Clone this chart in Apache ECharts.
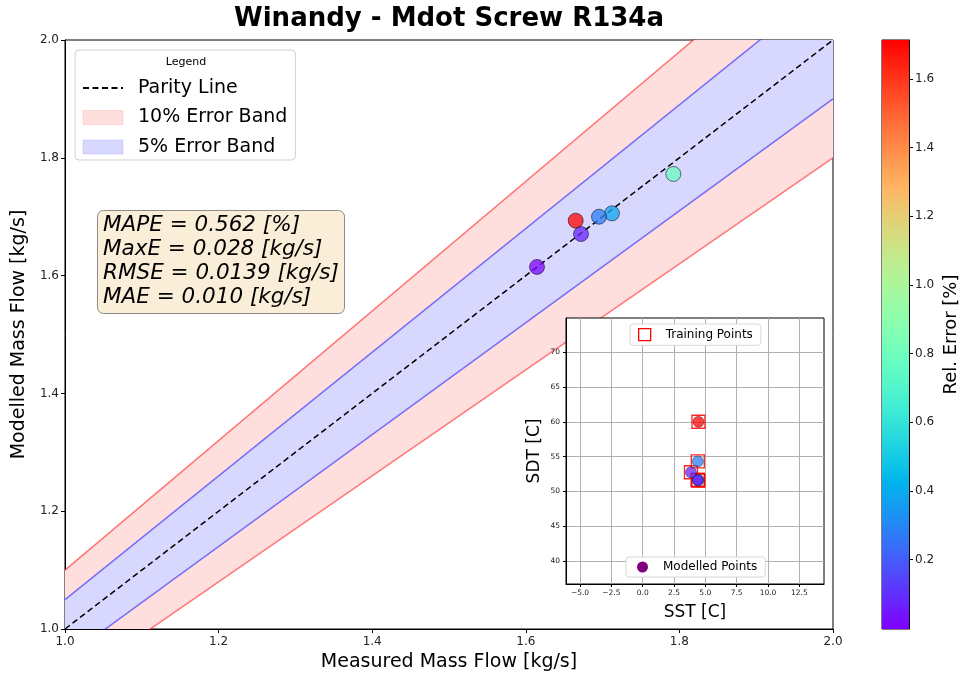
<!DOCTYPE html>
<html>
<head>
<meta charset="utf-8">
<script src="https://cdn.jsdelivr.net/npm/echarts@6/dist/echarts.min.js"></script>
<style>
  html, body { margin: 0; padding: 0; background: #fff; }
  #chart { width: 961px; height: 678px; }
</style>
</head>
<body>
<div id="chart"></div>
<script>
// Measured vs. modelled mass flow for each test point [kg/s]
const measured = [1.7921, 1.7122, 1.6650, 1.6953, 1.6719, 1.6146];
const modelled = [1.7725, 1.7057, 1.6933, 1.7000, 1.6706, 1.6147];
// Relative error of each point [%] (colour scale)
const relErr = [0.78, 0.38, 1.70, 0.28, 0.08, 0.01];
// Operating conditions of the same points (suction / discharge saturation temp.)
const sst = [4.45, 4.40, 4.45, 4.40, 3.85, 4.40];
const sdt = [51.55, 51.7, 60.0, 54.3, 52.75, 51.6];

// Axis ticks
const flowTicks = [1.0, 1.2, 1.4, 1.6, 1.8, 2.0];
const sstTicks = [-5, -2.5, 0, 2.5, 5, 7.5, 10, 12.5];
const sdtTicks = [40, 45, 50, 55, 60, 65, 70];
const errTicks = [0.2, 0.4, 0.6, 0.8, 1.0, 1.2, 1.4, 1.6];
const errRange = [-0.002, 1.713];

// Error bands around the parity line
const bandX = [1.0, 2.0];
const band10 = [0.9, 1.1];
const band5 = [0.95, 1.05];

const statsLines = [
  'MAPE = 0.562 [%]',
  'MaxE = 0.028 [kg/s]',
  'RMSE = 0.0139 [kg/s]',
  'MAE = 0.010 [kg/s]'
];

const FONT = 'DejaVu Sans';

// matplotlib-like "rainbow" colormap
function rainbow(t) {
  const r = Math.min(1, Math.abs(2 * t - 0.5));
  const g = Math.max(0, Math.sin(Math.PI * t));
  const b = Math.max(0, Math.cos(Math.PI * t / 2));
  return 'rgb(' + Math.round(r * 255) + ',' + Math.round(g * 255) + ',' + Math.round(b * 255) + ')';
}
const N_STOPS = 40;
const cmap = [];
for (let i = 0; i <= N_STOPS; i++) cmap.push(rainbow(i / N_STOPS));

const chart = echarts.init(document.getElementById('chart'), null, { renderer: 'canvas' });

function bandPolygon(name, factors, fill) {
  return {
    type: 'custom', name: name, xAxisIndex: 0, yAxisIndex: 0, silent: true, z: 1,
    itemStyle: { color: fill },
    data: [[bandX[0], bandX[1]]],
    renderItem: function (params, api) {
      const cs = params.coordSys;
      const pts = [
        [bandX[0], bandX[0] * factors[0]], [bandX[1], bandX[1] * factors[0]],
        [bandX[1], bandX[1] * factors[1]], [bandX[0], bandX[0] * factors[1]]
      ].map(p => api.coord(p));
      return {
        type: 'group',
        clipPath: { type: 'rect', shape: { x: cs.x, y: cs.y, width: cs.width, height: cs.height } },
        children: [{ type: 'polygon', shape: { points: pts }, style: { fill: fill } }]
      };
    }
  };
}

function edgeLine(factor, color) {
  return {
    type: 'line', xAxisIndex: 0, yAxisIndex: 0, silent: true, z: 2,
    symbol: 'none', lineStyle: { color: color, width: 1.5 },
    data: bandX.map(x => [x, x * factor])
  };
}

const mainPoints = measured.map((m, i) => [m, modelled[i], relErr[i]]);
const insetPoints = sst.map((s, i) => [s, sdt[i], relErr[i]]);

const axisText = { color: '#222', fontFamily: FONT };

const option = {
  animation: false,
  backgroundColor: '#fff',
  textStyle: { fontFamily: FONT },
  title: [{
    text: statsLines.join('\n'),
    left: 97, top: 210,
    padding: [4, 6, 5, 6],
    backgroundColor: 'rgba(245,222,179,0.5)',
    borderColor: '#8a8a8a', borderWidth: 1, borderRadius: 6,
    textStyle: { fontFamily: FONT, fontStyle: 'italic', fontWeight: 'normal', fontSize: 21.5, lineHeight: 23.8, color: '#000' }
  }],
  graphic: [
    { type: 'text', x: 449, y: 19, style: { text: 'Winandy - Mdot Screw R134a', font: 'bold 26px "DejaVu Sans"', fill: '#000', textAlign: 'center', textVerticalAlign: 'middle' } },
    { type: 'text', x: 186, y: 62, z: 100, style: { text: 'Legend', font: '11px "DejaVu Sans"', fill: '#000', textAlign: 'center', textVerticalAlign: 'middle' } }
  ],
  legend: [{
    left: 75, top: 50, orient: 'vertical',
    padding: [28, 8, 3, 7],
    itemWidth: 40, itemHeight: 14, itemGap: 9.5,
    backgroundColor: 'rgba(255,255,255,0.85)', borderColor: '#d0d0d0', borderWidth: 1, borderRadius: 4,
    textStyle: { fontFamily: FONT, fontSize: 19, lineHeight: 20, color: '#000', padding: [0, 0, 0, 10] },
    selectedMode: false,
    data: [
      { name: 'Parity Line', itemStyle: { color: 'rgba(0,0,0,0)', borderWidth: 0, opacity: 0 } },
      { name: '10% Error Band', icon: 'rect', itemStyle: { color: '#ffdede', borderColor: 'rgba(255,150,150,0.3)', borderWidth: 1 } },
      { name: '5% Error Band', icon: 'rect', itemStyle: { color: '#d8d8ff', borderColor: 'rgba(150,150,255,0.3)', borderWidth: 1 } }
    ]
  }, {
    left: 630, top: 324, zlevel: 1,
    padding: [4, 8, 4, 8],
    itemWidth: 12, itemHeight: 12,
    backgroundColor: '#fff', borderColor: '#d8d8d8', borderWidth: 1, borderRadius: 3,
    textStyle: { fontFamily: FONT, fontSize: 12, color: '#000', padding: [0, 0, 0, 10] },
    selectedMode: false,
    data: [{ name: 'Training Points', icon: 'rect', itemStyle: { color: 'rgba(0,0,0,0)', borderColor: '#ff0000', borderWidth: 1.3, opacity: 1 } }]
  }, {
    left: 626, top: 557, zlevel: 1,
    padding: [4, 8, 4, 11],
    itemWidth: 11, itemHeight: 11,
    backgroundColor: '#fff', borderColor: '#d8d8d8', borderWidth: 1, borderRadius: 3,
    textStyle: { fontFamily: FONT, fontSize: 12, color: '#000', padding: [0, 0, 0, 10] },
    selectedMode: false,
    data: [{ name: 'Modelled Points', icon: 'circle', itemStyle: { color: '#800080', borderWidth: 0, opacity: 1 } }]
  }],
  visualMap: {
    type: 'continuous', show: false,
    min: 0, max: errRange[1], dimension: 2,
    seriesIndex: [5, 7],
    inRange: { color: cmap }
  },
  grid: [
    { left: 65, top: 40, width: 768, height: 589, show: true, borderColor: '#000', borderWidth: 1, backgroundColor: 'transparent' },
    { left: 566, top: 318, width: 258, height: 266, show: true, borderColor: '#000', borderWidth: 1, backgroundColor: '#fff', zlevel: 1 },
    { left: 882, top: 40, width: 29, height: 589, show: true, borderColor: '#000', borderWidth: 1, backgroundColor: 'transparent' }
  ],
  xAxis: [{
    gridIndex: 0, type: 'value', min: 1.0, max: 2.0, interval: 0.2,
    name: 'Measured Mass Flow [kg/s]', nameLocation: 'middle', nameGap: 24,
    nameTextStyle: { fontFamily: FONT, fontSize: 19, color: '#000' },
    axisLine: { show: true, onZero: false, lineStyle: { color: '#000', width: 1 } },
    axisTick: { show: true, length: 4, lineStyle: { color: '#000' } },
    axisLabel: Object.assign({ fontSize: 12, margin: 7, formatter: v => v.toFixed(1), customValues: flowTicks }, axisText),
    splitLine: { show: false }
  }, {
    gridIndex: 1, type: 'value', min: -6.12, max: 14.47, zlevel: 1,
    name: 'SST [C]', nameLocation: 'middle', nameGap: 20,
    nameTextStyle: { fontFamily: FONT, fontSize: 17, color: '#000' },
    axisLine: { show: true, onZero: false, lineStyle: { color: '#000', width: 1 } },
    axisTick: { show: true, length: 3, customValues: sstTicks, lineStyle: { color: '#000' } },
    axisLabel: Object.assign({ fontSize: 7.5, margin: 5, customValues: sstTicks, formatter: v => (v < 0 ? '\u2212' : '') + Math.abs(v).toFixed(1) }, axisText),
    splitLine: { show: true, lineStyle: { color: '#b0b0b0', width: 1 } }
  }, {
    gridIndex: 2, type: 'value', min: 0, max: 1, show: false
  }],
  yAxis: [{
    gridIndex: 0, type: 'value', min: 1.0, max: 2.0, interval: 0.2,
    name: 'Modelled Mass Flow [kg/s]', nameLocation: 'middle', nameGap: 35,
    nameTextStyle: { fontFamily: FONT, fontSize: 19, color: '#000' },
    axisLine: { show: true, onZero: false, lineStyle: { color: '#000', width: 1 } },
    axisTick: { show: true, length: 4, lineStyle: { color: '#000' } },
    axisLabel: Object.assign({ fontSize: 12, margin: 6, formatter: v => v.toFixed(1), customValues: flowTicks }, axisText),
    splitLine: { show: false }
  }, {
    gridIndex: 1, type: 'value', min: 36.7, max: 74.9, zlevel: 1,
    name: 'SDT [C]', nameLocation: 'middle', nameGap: 23,
    nameTextStyle: { fontFamily: FONT, fontSize: 17, color: '#000' },
    axisLine: { show: true, onZero: false, lineStyle: { color: '#000', width: 1 } },
    axisTick: { show: true, length: 3, customValues: sdtTicks, lineStyle: { color: '#000' } },
    axisLabel: Object.assign({ fontSize: 7.5, margin: 6, customValues: sdtTicks, formatter: v => String(v) }, axisText),
    splitLine: { show: true, lineStyle: { color: '#b0b0b0', width: 1 } }
  }, {
    gridIndex: 2, type: 'value', position: 'right', min: errRange[0], max: errRange[1],
    name: 'Rel. Error [%]', nameLocation: 'middle', nameRotate: 90, nameGap: 33,
    nameTextStyle: { fontFamily: FONT, fontSize: 18, color: '#000' },
    axisLine: { show: true, onZero: false, lineStyle: { color: '#000', width: 1 } },
    axisTick: { show: true, length: 4, customValues: errTicks, lineStyle: { color: '#000' } },
    axisLabel: Object.assign({ fontSize: 12, margin: 6, customValues: errTicks, formatter: v => v.toFixed(1) }, axisText),
    splitLine: { show: false }
  }],
  series: [
    // shaded bands
    bandPolygon('10% Error Band', band10, '#ffdede'),
    bandPolygon('5% Error Band', band5, '#d8d8ff'),
    // outer band edges
    edgeLine(band10[0], 'rgba(255,0,0,0.5)'),
    edgeLine(band10[1], 'rgba(255,0,0,0.5)'),
    // parity line
    {
      type: 'line', name: 'Parity Line', xAxisIndex: 0, yAxisIndex: 0, silent: true, z: 4,
      symbol: 'none', lineStyle: { color: '#000', width: 1.5, type: [6, 3.5] },
      itemStyle: { color: '#000' },
      data: bandX.map(x => [x, x])
    },
    // main scatter (index 5)
    {
      type: 'scatter', name: 'Points', xAxisIndex: 0, yAxisIndex: 0, z: 6,
      symbol: 'circle', symbolSize: 15,
      itemStyle: { opacity: 0.75, borderColor: 'rgba(0,0,0,0.7)', borderWidth: 1 },
      data: mainPoints
    },
    // inset training squares
    {
      type: 'scatter', name: 'Training Points', xAxisIndex: 1, yAxisIndex: 1, zlevel: 1, z: 5,
      symbol: 'rect', symbolSize: 13,
      itemStyle: { color: 'rgba(0,0,0,0)', borderColor: '#ff0000', borderWidth: 1.3, opacity: 0.85 },
      data: insetPoints.map(p => [p[0], p[1]])
    },
    // inset modelled points (index 7)
    {
      type: 'scatter', name: 'Modelled Points', xAxisIndex: 1, yAxisIndex: 1, zlevel: 1, z: 6,
      symbol: 'circle', symbolSize: 11,
      itemStyle: { opacity: 0.75, borderColor: 'rgba(0,0,0,0.6)', borderWidth: 0.8 },
      data: insetPoints
    },
    // colour bar
    {
      type: 'custom', name: 'colorbar', xAxisIndex: 2, yAxisIndex: 2, silent: true,
      data: [[0, 1]],
      renderItem: function (params, api) {
        const top = api.coord([0, errRange[1]]);
        const bottom = api.coord([1, errRange[0]]);
        const stops = cmap.map((c, i) => ({ offset: i / N_STOPS, color: c }));
        return {
          type: 'rect',
          shape: { x: top[0], y: top[1], width: bottom[0] - top[0], height: bottom[1] - top[1] },
          style: { fill: new echarts.graphic.LinearGradient(0, 1, 0, 0, stops) }
        };
      }
    },
    // inner band edges
    edgeLine(band5[0], 'rgba(0,0,255,0.5)'),
    edgeLine(band5[1], 'rgba(0,0,255,0.5)')
  ]
};

chart.setOption(option);
</script>
</body>
</html>
